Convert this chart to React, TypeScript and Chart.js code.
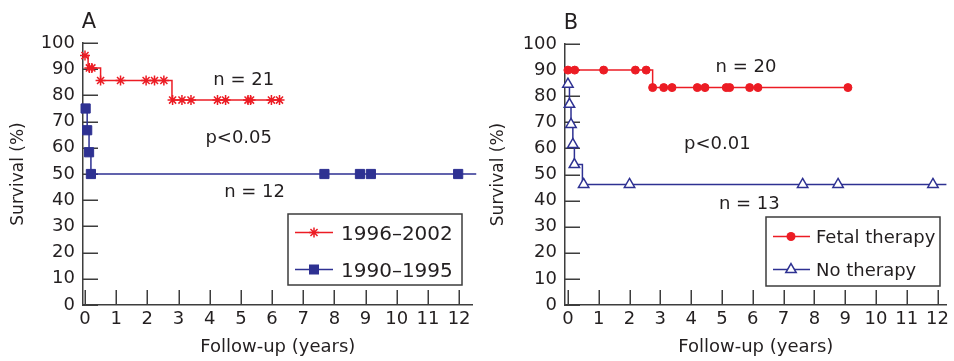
import React, { useEffect, useRef } from 'react';
import { Chart, registerables } from 'chart.js';

Chart.register(...registerables);

// ---------- shared ticks ----------
const xTickValues = [0, 1, 2, 3, 4, 5, 6, 7, 8, 9, 10, 11, 12];
const yTickValues = [0, 10, 20, 30, 40, 50, 60, 70, 80, 90, 100];

// ---------- Panel A ----------
const aRedLabel = '1996–2002';
const aRedLineX = [0, 0.1, 0.5, 2.79, 6.24];
const aRedLineY = [95.2, 90.5, 85.7, 78.2, 78.2];
const aRedMarkX = [0, 0.14, 0.22, 0.5, 1.14, 1.96, 2.23, 2.53, 2.81, 3.11, 3.4, 4.25, 4.51, 5.23, 5.31, 5.98, 6.24];
const aRedMarkY = [95.2, 90.5, 90.5, 85.7, 85.7, 85.7, 85.7, 85.7, 78.2, 78.2, 78.2, 78.2, 78.2, 78.2, 78.2, 78.2, 78.2];

const aBlueLabel = '1990–1995';
const aBlueLineX = [0.02, 0.07, 0.13, 0.19, 12.55];
const aBlueLineY = [75, 66.7, 58.3, 50, 50];
const aBlueMarkX = [0.02, 0.07, 0.13, 0.19, 7.68, 8.82, 9.17, 11.97];
const aBlueMarkY = [75, 66.7, 58.3, 50, 50, 50, 50, 50];

const aNotes = ['n = 21', 'p<0.05', 'n = 12'];
const aNoteX = [5.09, 4.93, 5.44];
const aNoteY = [86.5, 64.3, 43.9];

// ---------- Panel B ----------
const bRedLabel = 'Fetal therapy';
const bRedLineX = [0, 2.75, 9.09];
const bRedLineY = [90, 83.3, 83.3];
const bRedMarkX = [0, 0.22, 1.16, 2.19, 2.54, 2.75, 3.11, 3.38, 4.2, 4.45, 5.14, 5.25, 5.9, 6.17, 9.09];
const bRedMarkY = [90, 90, 90, 90, 90, 83.3, 83.3, 83.3, 83.3, 83.3, 83.3, 83.3, 83.3, 83.3, 83.3];

const bBlueLabel = 'No therapy';
const bBlueLineX = [0, 0.05, 0.1, 0.16, 0.21, 0.47, 12.3];
const bBlueLineY = [84.6, 76.9, 69.2, 61.5, 53.8, 46.2, 46.2];
const bBlueMarkX = [0, 0.05, 0.1, 0.16, 0.21, 0.51, 2.0, 7.62, 8.77, 11.85];
const bBlueMarkY = [84.6, 76.9, 69.2, 61.5, 53.8, 46.2, 46.2, 46.2, 46.2, 46.2];

const bNotes = ['n = 20', 'p<0.01', 'n = 13'];
const bNoteX = [5.78, 4.85, 5.89];
const bNoteY = [91.9, 62.4, 39.3];

// ---------- styles ----------
const RED = '#ec1c24';
const BLUE = '#2e3192';
const AXIS = '#3d3d3d';
const TEXT = '#231f20';
const FONT = "'DejaVu Sans', sans-serif";
const CAP = 0.73;

type Marker = 'star' | 'rect' | 'circle' | 'triangle';

interface PanelSpec {
  letter: string;
  canvasWidth: number;
  left: number;
  top: number;
  right: number;
  xHeight: number;
  xMin: number;
  xMax: number;
  notes: string[];
  noteX: number[];
  noteY: number[];
  series: {
    label: string;
    color: string;
    marker: Marker;
    lineX: number[];
    lineY: number[];
    markX: number[];
    markY: number[];
    clip?: boolean;
  }[];
  legend: { x0: number; y0: number; x1: number; y1: number; rowY: number[]; lineX0: number; lineX1: number; markerX: number; textX: number; fontSize: number };
}

const zip = (xs: number[], ys: number[]) => xs.map((x, i) => ({ x, y: ys[i] }));

function drawMarker(ctx: CanvasRenderingContext2D, kind: Marker, cx: number, cy: number, color: string) {
  ctx.save();
  ctx.strokeStyle = color;
  ctx.fillStyle = color;
  if (kind === 'star') {
    const r = 5;
    ctx.lineWidth = 1.5;
    ctx.beginPath();
    for (let k = 0; k < 4; k++) {
      const a = (k * Math.PI) / 4;
      ctx.moveTo(cx - Math.cos(a) * r, cy - Math.sin(a) * r);
      ctx.lineTo(cx + Math.cos(a) * r, cy + Math.sin(a) * r);
    }
    ctx.stroke();
  } else if (kind === 'rect') {
    const s = 10;
    ctx.fillRect(cx - s / 2, cy - s / 2, s, s);
  } else if (kind === 'circle') {
    ctx.beginPath();
    ctx.arc(cx, cy, 4.5, 0, Math.PI * 2);
    ctx.fill();
  } else {
    const r = 6;
    ctx.lineWidth = 1.5;
    ctx.beginPath();
    for (let k = 0; k < 3; k++) {
      const a = (k * 2 * Math.PI) / 3;
      const px = cx + Math.sin(a) * r;
      const py = cy - Math.cos(a) * r;
      if (k === 0) ctx.moveTo(px, py);
      else ctx.lineTo(px, py);
    }
    ctx.closePath();
    ctx.fillStyle = '#fff';
    ctx.fill();
    ctx.stroke();
  }
  ctx.restore();
}

function makeDecor(p: PanelSpec) {
  return {
    id: 'decor' + p.letter,
    beforeDatasetsDraw(chart: any) {
      const { ctx, chartArea, scales } = chart;
      const x = scales.x;
      const y = scales.y;
      ctx.save();
      ctx.strokeStyle = AXIS;
      ctx.lineWidth = 1.5;
      ctx.beginPath();
      for (const v of yTickValues) {
        const py = Math.round(y.getPixelForValue(v)) + 0.25;
        ctx.moveTo(chartArea.left, py);
        ctx.lineTo(chartArea.left + 15, py);
      }
      for (const v of xTickValues) {
        const px = Math.round(x.getPixelForValue(v)) + 0.25;
        ctx.moveTo(px, chartArea.bottom);
        ctx.lineTo(px, chartArea.bottom - 15);
      }
      ctx.stroke();
      ctx.restore();
    },
    afterDraw(chart: any) {
      const { ctx, chartArea, scales } = chart;
      const x = scales.x;
      const y = scales.y;
      ctx.save();
      // panel letter
      ctx.fillStyle = TEXT;
      ctx.font = `21px ${FONT}`;
      ctx.textAlign = 'center';
      ctx.textBaseline = 'alphabetic';
      ctx.fillText(p.letter, chartArea.left + 6, chartArea.top - 23 + (21 * CAP) / 2);
      // annotations
      ctx.font = `18px ${FONT}`;
      p.notes.forEach((t, i) => {
        ctx.fillText(t, x.getPixelForValue(p.noteX[i]), y.getPixelForValue(p.noteY[i]) + (18 * CAP) / 2);
      });
      // legend
      const L = p.legend;
      ctx.fillStyle = '#fff';
      ctx.fillRect(L.x0, L.y0, L.x1 - L.x0, L.y1 - L.y0);
      ctx.strokeStyle = AXIS;
      ctx.lineWidth = 1.5;
      ctx.strokeRect(L.x0, L.y0, L.x1 - L.x0, L.y1 - L.y0);
      ctx.font = `${L.fontSize}px ${FONT}`;
      ctx.textAlign = 'left';
      p.series.forEach((s, i) => {
        const cy = L.rowY[i];
        ctx.strokeStyle = s.color;
        ctx.lineWidth = 1.5;
        ctx.beginPath();
        ctx.moveTo(L.lineX0, cy);
        ctx.lineTo(L.lineX1, cy);
        ctx.stroke();
        drawMarker(ctx, s.marker, L.markerX, cy, s.color);
        ctx.fillStyle = TEXT;
        ctx.fillText(s.label, L.textX, cy + (L.fontSize * CAP) / 2);
      });
      ctx.restore();
    },
  };
}

function buildConfig(p: PanelSpec): any {
  const datasets: any[] = [];
  p.series.forEach((s) => {
    const isStar = s.marker === 'star';
    const isRect = s.marker === 'rect';
    const isTri = s.marker === 'triangle';
    datasets.push({
      label: s.label + ' censored',
      data: zip(s.markX, s.markY),
      showLine: false,
      pointStyle: s.marker,
      pointRadius: isStar ? 5 : isRect ? 6.5 : isTri ? 6 : 4,
      pointBorderWidth: isStar ? 1.5 : isTri ? 1.5 : 1,
      pointBorderColor: s.color,
      pointBackgroundColor: isTri ? '#ffffff' : s.color,
      order: 0,
      clip: false,
    });
    datasets.push({
      label: s.label,
      data: zip(s.lineX, s.lineY),
      stepped: 'before',
      borderColor: s.color,
      borderWidth: 1.5,
      pointRadius: 0,
      fill: false,
      order: 1,
      clip: s.clip === false ? false : undefined,
    });
  });

  const tickFont = { family: FONT, size: 18 };
  return {
    type: 'line',
    data: { datasets },
    options: {
      responsive: false,
      animation: false,
      devicePixelRatio: 1,
      events: [],
      layout: { padding: { left: 0, top: p.top, right: p.right, bottom: 0 } },
      plugins: { legend: { display: false }, tooltip: { enabled: false } },
      scales: {
        x: {
          type: 'linear',
          min: p.xMin,
          max: p.xMax,
          afterBuildTicks: (s: any) => {
            s.ticks = xTickValues.map((v) => ({ value: v }));
          },
          afterFit: (s: any) => {
            s.height = p.xHeight;
            s.paddingLeft = 0;
            s.paddingRight = 0;
          },
          grid: { display: false, drawTicks: false },
          border: { display: true, color: AXIS, width: 1.5 },
          ticks: {
            font: tickFont,
            color: TEXT,
            padding: 4,
            maxRotation: 0,
            autoSkip: false,
            callback: (v: any) => String(v),
          },
          title: {
            display: true,
            text: 'Follow-up (years)',
            font: { family: FONT, size: 18 },
            color: TEXT,
            padding: { top: 0, bottom: 3 },
          },
        },
        y: {
          type: 'linear',
          min: 0,
          max: 100,
          afterBuildTicks: (s: any) => {
            s.ticks = yTickValues.map((v) => ({ value: v }));
          },
          afterFit: (s: any) => {
            s.width = p.left;
            s.paddingTop = 0;
            s.paddingBottom = 0;
          },
          grid: { display: false, drawTicks: false },
          border: { display: true, color: AXIS, width: 1.5 },
          ticks: {
            font: tickFont,
            color: TEXT,
            padding: 8,
            autoSkip: false,
            callback: (v: any) => String(v),
          },
          title: {
            display: true,
            text: 'Survival (%)',
            font: { family: FONT, size: 17 },
            color: TEXT,
            padding: { top: 8, bottom: 0 },
          },
        },
      },
    },
    plugins: [makeDecor(p)],
  };
}

const panelA: PanelSpec = {
  letter: 'A',
  canvasWidth: 480,
  left: 83,
  top: 43,
  right: 4.5,
  xHeight: 56,
  xMin: -0.064,
  xMax: 12.43,
  notes: aNotes,
  noteX: aNoteX,
  noteY: aNoteY,
  series: [
    { label: aRedLabel, color: RED, marker: 'star', lineX: aRedLineX, lineY: aRedLineY, markX: aRedMarkX, markY: aRedMarkY },
    { label: aBlueLabel, color: BLUE, marker: 'rect', lineX: aBlueLineX, lineY: aBlueLineY, markX: aBlueMarkX, markY: aBlueMarkY, clip: false },
  ],
  legend: { x0: 288, y0: 214, x1: 462, y1: 285, rowY: [232.5, 269.5], lineX0: 295, lineX1: 333, markerX: 314, textX: 341, fontSize: 20 },
};

const panelB: PanelSpec = {
  letter: 'B',
  canvasWidth: 474,
  left: 85,
  top: 44,
  right: 0,
  xHeight: 56,
  xMin: -0.095,
  xMax: 12.29,
  notes: bNotes,
  noteX: bNoteX,
  noteY: bNoteY,
  series: [
    { label: bRedLabel, color: RED, marker: 'circle', lineX: bRedLineX, lineY: bRedLineY, markX: bRedMarkX, markY: bRedMarkY },
    { label: bBlueLabel, color: BLUE, marker: 'triangle', lineX: bBlueLineX, lineY: bBlueLineY, markX: bBlueMarkX, markY: bBlueMarkY },
  ],
  legend: { x0: 286, y0: 217, x1: 460, y1: 286, rowY: [236.5, 269.5], lineX0: 293, lineX1: 330, markerX: 311, textX: 336, fontSize: 18 },
};

function Panel({ spec, left }: { spec: PanelSpec; left: number }) {
  const ref = useRef<HTMLCanvasElement>(null);
  useEffect(() => {
    const chart = new Chart(ref.current as HTMLCanvasElement, buildConfig(spec));
    return () => chart.destroy();
  }, [spec]);
  return (
    <canvas
      ref={ref}
      width={spec.canvasWidth}
      height={361}
      style={{ position: 'absolute', left, top: 0, width: spec.canvasWidth, height: 361, display: 'block' }}
    />
  );
}

export default function App() {
  return (
    <div style={{ position: 'absolute', left: 0, top: 0, width: 954, height: 361, background: '#fff', overflow: 'hidden' }}>
      <Panel spec={panelA} left={0} />
      <Panel spec={panelB} left={480} />
    </div>
  );
}
